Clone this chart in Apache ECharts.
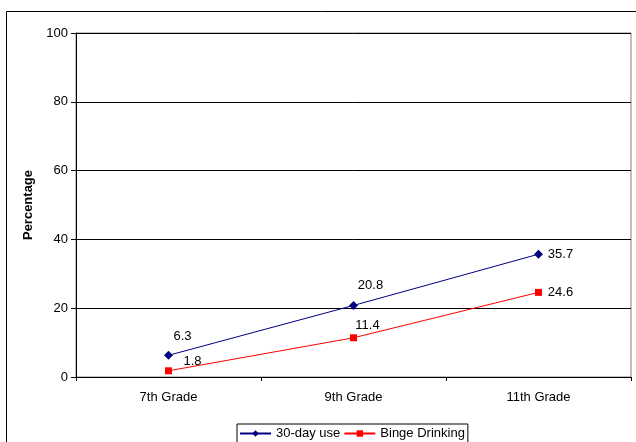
<!DOCTYPE html>
<html>
<head>
<meta charset="utf-8">
<script src="https://cdn.jsdelivr.net/npm/echarts@6/dist/echarts.min.js"></script>
<style>
  html, body { margin: 0; padding: 0; background: #fff; }
  #chart { width: 636px; height: 442px; }
</style>
</head>
<body>
<div id="chart"></div>
<script>
// Grade levels on the category axis
const grades = ['7th Grade', '9th Grade', '11th Grade'];
// Percent reporting past-30-day use
const use30Day = [6.3, 20.8, 35.7];
// Percent reporting binge drinking
const bingeDrinking = [1.8, 11.4, 24.6];
// Value axis ticks
const yTicks = [0, 20, 40, 60, 80, 100];

// Per-point label nudges (relative to each marker)
const useLabelOffsets = [[14, -19], [17, -20], [22, 0]];
const bingeLabelOffsets = [[24, -9], [14, -12], [22, 0]];

const FONT = '"Liberation Sans", Arial, sans-serif';

function withLabels(values, offsets) {
  return values.map((v, i) => ({
    value: v,
    label: { offset: offsets[i] }
  }));
}

const chart = echarts.init(document.getElementById('chart'), null, { renderer: 'canvas' });

chart.setOption({
  animation: false,
  backgroundColor: '#ffffff',
  textStyle: { fontFamily: FONT },
  graphic: [{
    type: 'rect',
    shape: { x: 6.5, y: 11.5, width: 700, height: 500 },
    style: { fill: 'none', stroke: '#000', lineWidth: 1 },
    silent: true
  }],
  grid: {
    left: 76, right: 5, top: 33, bottom: 65,
    show: true, borderColor: '#808080', borderWidth: 1, backgroundColor: 'transparent'
  },
  legend: {
    bottom: -6, left: 237,
    padding: [3, 3, 8, 2],
    borderColor: '#000', borderWidth: 1,
    itemWidth: 31, itemHeight: 8, itemGap: 3,
    textStyle: { fontFamily: FONT, fontSize: 13, color: '#000' },
    data: ['30-day use', 'Binge Drinking']
  },
  xAxis: {
    type: 'category',
    data: grades,
    boundaryGap: true,
    axisLine: { lineStyle: { color: '#000', width: 1 } },
    axisTick: { show: true, length: 4, lineStyle: { color: '#000' } },
    axisLabel: { fontFamily: FONT, fontSize: 13, color: '#000', margin: 14 },
    splitLine: { show: false }
  },
  yAxis: {
    type: 'value',
    min: yTicks[0], max: yTicks[yTicks.length - 1], interval: 20,
    name: 'Percentage',
    nameLocation: 'middle',
    nameGap: 40,
    nameTextStyle: { fontFamily: FONT, fontSize: 13, fontWeight: 'bold', color: '#000' },
    axisLine: { show: true, lineStyle: { color: '#000', width: 1 } },
    axisTick: { show: true, length: 5, lineStyle: { color: '#000' } },
    axisLabel: { fontFamily: FONT, fontSize: 13, color: '#000', margin: 8 },
    splitLine: { show: true, lineStyle: { color: '#000', width: 1 } }
  },
  series: [
    {
      name: '30-day use',
      type: 'line',
      data: withLabels(use30Day, useLabelOffsets),
      color: '#000080',
      lineStyle: { color: '#000080', width: 1 },
      itemStyle: { color: '#000080' },
      symbol: 'diamond',
      symbolSize: 9,
      label: {
        show: true, position: 'inside',
        fontFamily: FONT, fontSize: 13, color: '#000'
      }
    },
    {
      name: 'Binge Drinking',
      type: 'line',
      data: withLabels(bingeDrinking, bingeLabelOffsets),
      color: '#ff0000',
      lineStyle: { color: '#ff0000', width: 1 },
      itemStyle: { color: '#ff0000' },
      symbol: 'rect',
      symbolSize: 7,
      label: {
        show: true, position: 'inside',
        fontFamily: FONT, fontSize: 13, color: '#000'
      }
    }
  ]
});
</script>
</body>
</html>
